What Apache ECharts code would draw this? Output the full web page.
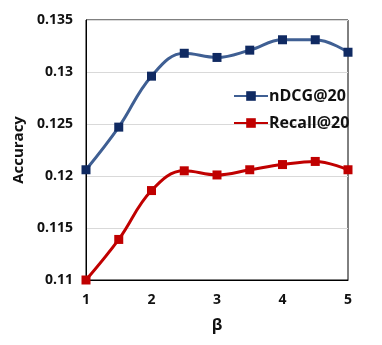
<!DOCTYPE html>
<html>
<head>
<meta charset="utf-8">
<script src="https://cdn.jsdelivr.net/npm/echarts@6/dist/echarts.min.js"></script>
<style>
  html, body { margin: 0; padding: 0; background: #fff; }
  #chart { width: 382px; height: 345px; }
</style>
</head>
<body>
<div id="chart"></div>
<script>
// beta values on x
var betas = [1, 1.5, 2, 2.5, 3, 3.5, 4, 4.5, 5];
var ndcg = [0.1206, 0.1247, 0.1296, 0.1318, 0.1314, 0.1321, 0.1331, 0.1331, 0.1319];
var recall = [0.1100, 0.1139, 0.1186, 0.1205, 0.1201, 0.1206, 0.1211, 0.1214, 0.1206];
var seriesNames = ["nDCG@20", "Recall@20"];

var font = "'Open Sans', 'Liberation Sans', sans-serif";

function pairs(ys) {
  return betas.map(function (b, i) { return [b, ys[i]]; });
}

var chart = echarts.init(document.getElementById("chart"));
var option = {
  animation: false,
  grid: {
    left: 86, right: 34, top: 20, bottom: 65,
    show: true, borderColor: "#000", borderWidth: 1
  },
  legend: {
    orient: "vertical",
    left: 228, top: 83,
    itemWidth: 34, itemHeight: 12, itemGap: 11,
    textStyle: { fontFamily: font, fontWeight: "bold", fontSize: 16, color: "#111", padding: [0, 0, 0, -4] },
    data: seriesNames
  },
  xAxis: {
    type: "value", min: 1, max: 5, interval: 1,
    name: "β", nameLocation: "middle", nameGap: 37,
    nameTextStyle: { fontFamily: font, fontWeight: "bold", fontSize: 16, color: "#111" },
    axisLine: { show: true, lineStyle: { color: "#000", width: 1 } },
    axisTick: { show: false },
    splitLine: { show: false },
    axisLabel: { fontFamily: font, fontWeight: "bold", fontSize: 14, color: "#111", margin: 13 }
  },
  yAxis: {
    type: "value", min: 0.11, max: 0.135, interval: 0.005,
    name: "Accuracy", nameLocation: "middle", nameGap: 58, nameRotate: 90,
    nameTextStyle: { fontFamily: font, fontWeight: "bold", fontSize: 15, color: "#111" },
    axisLine: { show: true, lineStyle: { color: "#000", width: 1 } },
    axisTick: { show: false },
    splitLine: { show: true, lineStyle: { color: "#d9d9d9", width: 1 } },
    axisLabel: {
      fontFamily: font, fontWeight: "bold", fontSize: 14, color: "#111", margin: 13,
      formatter: function (v) { return String(+v.toFixed(3)); }
    }
  },
  series: [
    {
      name: seriesNames[0], type: "line", smooth: 0.4,
      data: pairs(ndcg),
      symbol: "rect", symbolSize: 9,
      lineStyle: { color: "#3f5f93", width: 3 },
      itemStyle: { color: "#102a62" }
    },
    {
      name: seriesNames[1], type: "line", smooth: 0.4,
      data: pairs(recall),
      symbol: "rect", symbolSize: 9,
      lineStyle: { color: "#c00000", width: 3 },
      itemStyle: { color: "#c00000" }
    }
  ]
};
chart.setOption(option);
</script>
</body>
</html>
